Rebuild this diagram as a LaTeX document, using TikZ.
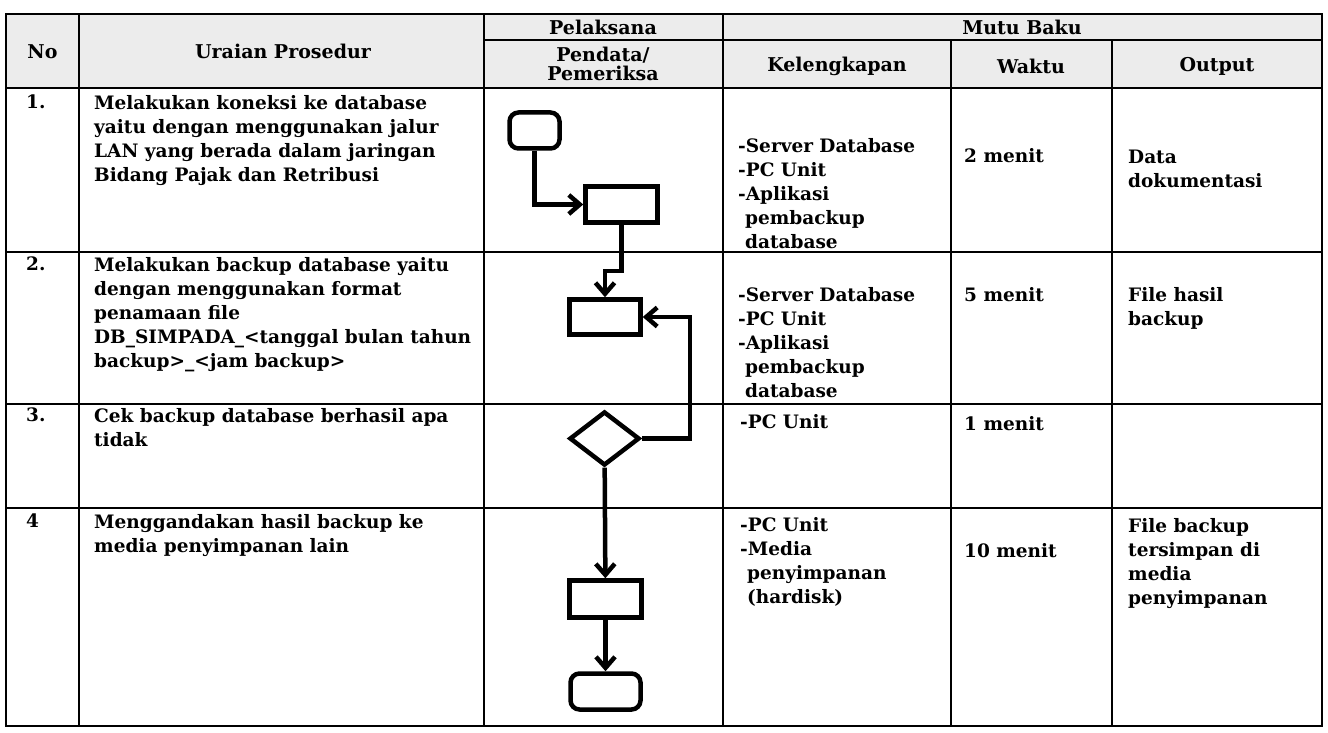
\documentclass[tikz,border=0pt]{standalone}
\usepackage{fontspec}
\setmainfont{DejaVu Serif}
\usetikzlibrary{arrows.meta, positioning, shapes.geometric}

\begin{document}
\begin{tikzpicture}[
    x=1pt, y=-1pt,
    grid/.style={line width=2.5pt},
    txt/.style={anchor=north west, inner sep=0pt, align=left,
                font=\bfseries\fontsize{18.5}{24}\selectfont},
    head/.style={inner sep=0pt, align=center,
                 font=\bfseries\fontsize{19}{19}\selectfont},
    proc/.style={draw, line width=4.5pt, minimum width=72pt,
                 minimum height=36pt, inner sep=0pt},
    term/.style={proc, rounded corners=9pt},
    cond/.style={draw, diamond, line width=4.5pt, minimum width=70pt,
                 minimum height=54pt, inner sep=0pt},
    arr/.style={-{Straight Barb[length=11pt, width=19pt]}, line width=4.5pt}
]

\useasboundingbox (0,0) rectangle (1328,733);

% Table frame
\fill[gray!15] (6,14) rectangle (1322,88);
\draw[grid] (6,14) rectangle (1322,726);
\draw[grid] (484,40) -- (1322,40);
\foreach \y in {88,252,404,508}
    \draw[grid] (6,\y) -- (1322,\y);
\foreach \x in {79,484,723}
    \draw[grid] (\x,14) -- (\x,726);
\foreach \x in {951,1112}
    \draw[grid] (\x,40) -- (\x,726);

% Header
\node[head] (hNo)          at (42.5,52) {No};
\node[head] (hUraian)      at (283,51)  {Uraian Prosedur};
\node[head] (hPelaksana)   at (603,27)  {Pelaksana};
\node[head] (hPendata)     at (603,64)  {Pendata/\\Pemeriksa};
\node[head] (hMutu)        at (1022,27) {Mutu Baku};
\node[head] (hKelengkapan) at (837,66)  {Kelengkapan};
\node[head] (hWaktu)       at (1031,66) {Waktu};
\node[head] (hOutput)      at (1217,66) {Output};

% Row 1
\node[txt] (n1) at (26,95)  {1.};
\node[txt] (u1) at (94,95)  {Melakukan koneksi ke database\\yaitu dengan menggunakan jalur\\
                              LAN yang berada dalam jaringan\\Bidang Pajak dan Retribusi};
\node[txt] (k1) at (738,138) {-Server Database\\-PC Unit\\-Aplikasi\\
                              \hspace*{7pt}pembackup\\\hspace*{7pt}database};
\node[txt] (w1) at (964,148) {2 menit};
\node[txt] (o1) at (1128,150) {Data\\dokumentasi};

% Row 2
\node[txt] (n2) at (26,257) {2.};
\node[txt] (u2) at (94,257) {Melakukan backup database yaitu\\dengan menggunakan format\\
                              penamaan file\\DB\_SIMPADA\_<tanggal bulan tahun\\backup>\_<jam backup>};
\node[txt] (k2) at (738,287) {-Server Database\\-PC Unit\\-Aplikasi\\
                              \hspace*{7pt}pembackup\\\hspace*{7pt}database};
\node[txt] (w2) at (964,287) {5 menit};
\node[txt] (o2) at (1128,287) {File hasil\\backup};

% Row 3
\node[txt] (n3) at (26,408) {3.};
\node[txt] (u3) at (94,408) {Cek backup database berhasil apa\\tidak};
\node[txt] (k3) at (740,414) {-PC Unit};
\node[txt] (w3) at (964,416) {1 menit};

% Row 4
\node[txt] (n4) at (26,514) {4};
\node[txt] (u4) at (94,514) {Menggandakan hasil backup ke\\media penyimpanan lain};
\node[txt] (k4) at (740,517) {-PC Unit\\-Media\\\hspace*{7pt}penyimpanan\\\hspace*{7pt}(hardisk)};
\node[txt] (w4) at (964,543) {10 menit};
\node[txt] (o4) at (1128,518) {File backup\\tersimpan di\\media\\penyimpanan};

% Flowchart
\node[term, minimum width=50pt] (mulai)   at (534.5,130.5) {};
\node[proc]                     (koneksi) at (621.5,204.5) {};
\node[proc, minimum width=71pt, minimum height=35pt] (backup) at (605,317) {};
\node[cond]                     (cek)     at (604.5,438.5) {};
\node[proc, minimum height=37pt] (salin)  at (605.5,599) {};
\node[term, minimum width=70pt] (selesai) at (605.5,691.5) {};
\coordinate (ulang) at (690,438.5);

\draw[arr] (mulai) |- (koneksi);
\draw[arr] (koneksi.south) -- ++(0,46) -| (backup.north);
\draw[arr] (cek.east) -- (ulang) |- (backup.east);
\draw[arr] (cek) -- (salin);
\draw[arr] (salin) -- (selesai);

\end{tikzpicture}
\end{document}
